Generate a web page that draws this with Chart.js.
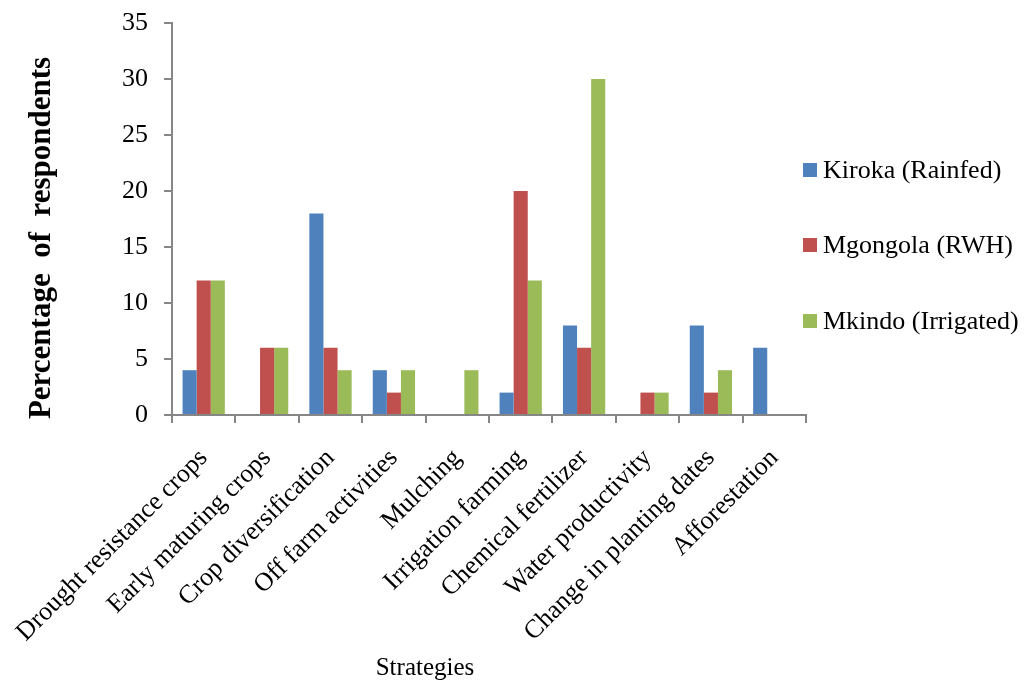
<!DOCTYPE html>
<html>
<head>
<meta charset="utf-8">
<script src="https://cdn.jsdelivr.net/npm/chart.js@4.4.1/dist/chart.umd.min.js"></script>
<style>
  html, body { margin: 0; padding: 0; background: #ffffff; }
  #wrap { width: 1027px; height: 684px; }
</style>
</head>
<body>
<div id="wrap"><canvas id="chart" width="1027" height="684"></canvas></div>
<script>
// Adaptation strategies reported by respondents in each scheme (%)
const strategies = [
  'Drought resistance crops',
  'Early maturing crops',
  'Crop diversification',
  'Off farm activities',
  'Mulching',
  'Irrigation farming',
  'Chemical fertilizer',
  'Water productivity',
  'Change in planting dates',
  'Afforestation'
];
const kirokaRainfed   = [4, 0, 18, 4, 0, 2, 8, 0, 8, 6];
const mgongolaRWH     = [12, 6, 6, 2, 0, 20, 6, 2, 2, 0];
const mkindoIrrigated = [12, 6, 4, 4, 4, 12, 30, 2, 4, 0];
const seriesNames = ['Kiroka (Rainfed)', 'Mgongola (RWH)', 'Mkindo (Irrigated)'];
const yTickValues = [0, 5, 10, 15, 20, 25, 30, 35];

const seriesColors = ['#4F81BD', '#C0504D', '#9BBB59'];
const serif = '"Liberation Serif", "Times New Roman", serif';
const axisGrey = '#868686';

// Axis titles and a vertical legend drawn beside the plot
const decorations = {
  id: 'decorations',
  afterDraw(chart) {
    const ctx = chart.ctx;
    ctx.save();
    ctx.fillStyle = '#000';

    // y-axis title
    ctx.save();
    ctx.translate(42, 238);
    ctx.rotate(-Math.PI / 2);
    ctx.font = 'bold 31px ' + serif;
    ctx.textAlign = 'center';
    ctx.textBaseline = 'middle';
    ctx.fillText('Percentage  of  respondents', 0, 0);
    ctx.restore();

    // x-axis title
    ctx.font = '25px ' + serif;
    ctx.textAlign = 'center';
    ctx.textBaseline = 'middle';
    ctx.fillText('Strategies', 425, 668);

    // legend
    const rows = [170, 245, 321];
    ctx.font = '26px ' + serif;
    ctx.textAlign = 'left';
    chart.data.datasets.forEach((ds, i) => {
      ctx.fillStyle = ds.backgroundColor;
      ctx.fillRect(803, rows[i] - 7, 14, 14);
      ctx.fillStyle = '#000';
      ctx.fillText(ds.label, 823, rows[i] + 1);
    });
    ctx.restore();
  }
};

const datasets = [kirokaRainfed, mgongolaRWH, mkindoIrrigated].map((values, i) => ({
  label: seriesNames[i],
  data: values,
  backgroundColor: seriesColors[i],
  borderWidth: 0,
  categoryPercentage: 0.667,
  barPercentage: 1.0
}));

new Chart(document.getElementById('chart'), {
  type: 'bar',
  data: { labels: strategies, datasets },
  plugins: [decorations],
  options: {
    responsive: false,
    animation: false,
    layout: { padding: { top: 23, right: 221, bottom: 0, left: 0 } },
    plugins: {
      legend: { display: false },
      tooltip: { enabled: false }
    },
    scales: {
      x: {
        grid: {
          display: true,
          offset: true,
          drawOnChartArea: false,
          drawTicks: true,
          tickLength: 8,
          color: axisGrey,
          lineWidth: 2
        },
        border: { display: true, color: axisGrey, width: 2 },
        ticks: {
          autoSkip: false,
          minRotation: 45,
          maxRotation: 45,
          padding: 20,
          color: '#000',
          font: { family: serif, size: 26 }
        },
        afterFit(scale) {
          scale.height = 269;
          scale.paddingLeft = 0;
          scale.paddingRight = 0;
        }
      },
      y: {
        min: 0,
        max: 35,
        afterBuildTicks(scale) {
          scale.ticks = yTickValues.map(v => ({ value: v }));
        },
        grid: {
          display: true,
          drawOnChartArea: false,
          drawTicks: true,
          tickLength: 8,
          color: axisGrey,
          lineWidth: 2
        },
        border: { display: true, color: axisGrey, width: 2 },
        ticks: {
          padding: 16,
          color: '#000',
          font: { family: serif, size: 26 }
        },
        afterFit(scale) {
          scale.width = 172;
          scale.paddingTop = 0;
          scale.paddingBottom = 0;
        }
      }
    }
  }
});
</script>
</body>
</html>
